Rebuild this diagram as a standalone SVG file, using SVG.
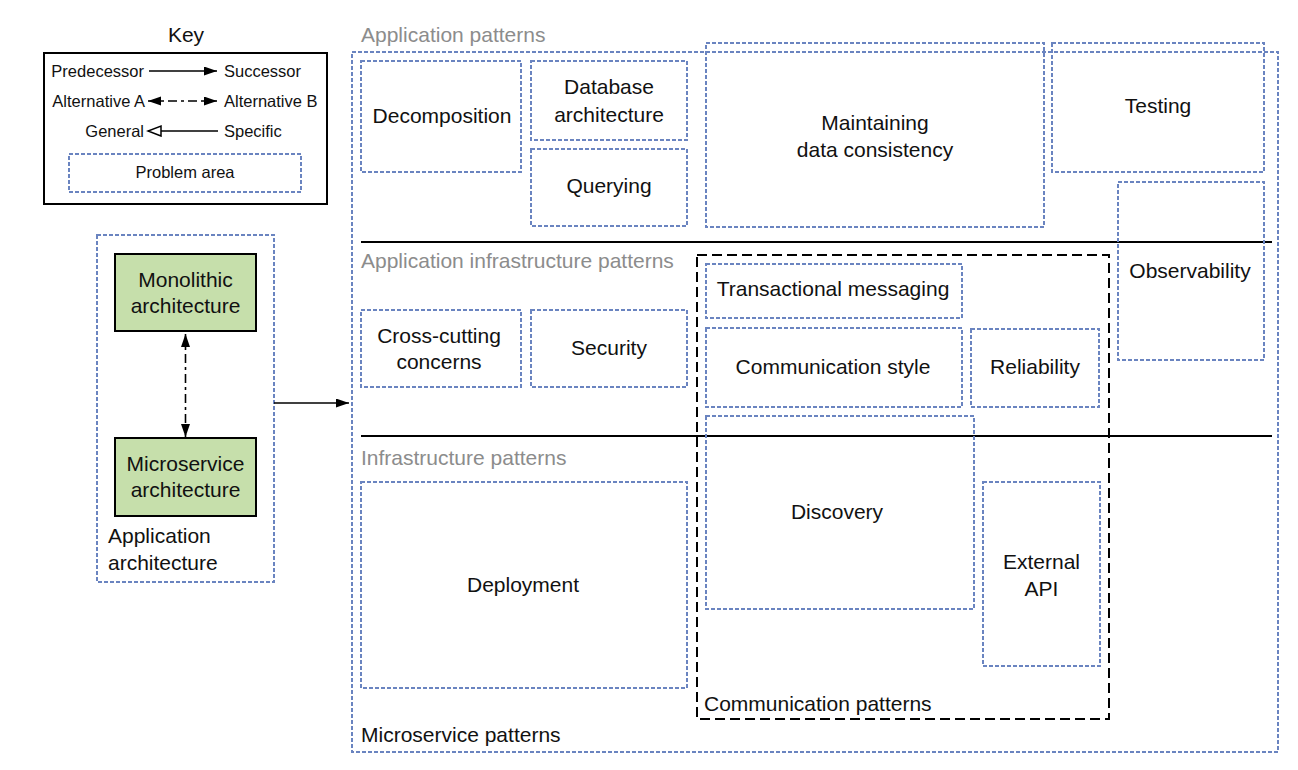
<svg xmlns="http://www.w3.org/2000/svg" width="1298" height="770" viewBox="0 0 1298 770">
<defs>
<style>
text{font-family:"Liberation Sans",Arial,sans-serif;fill:#111}
.n{font-size:21px;text-anchor:middle}
.g{font-size:21px;fill:#8c8c8c}
.l{font-size:21px}
.k{font-size:16.5px}
.ke{font-size:16.5px;text-anchor:end}
.kc{font-size:16.5px;text-anchor:middle}
.pa{fill:none;stroke:#6a84c0;stroke-width:2;stroke-dasharray:4 2}
.cp{fill:none;stroke:#000;stroke-width:2;stroke-dasharray:10 5}
.sep{stroke:#000;stroke-width:2}
.arch{fill:#c6dfab;stroke:#000;stroke-width:2}
.ln{stroke:#000;stroke-width:1.6;fill:none}
.dd{stroke:#000;stroke-width:1.6;fill:none;stroke-dasharray:9 4 3 4}
</style>
<marker id="ah" markerUnits="userSpaceOnUse" markerWidth="14" markerHeight="10" refX="13" refY="4.5" orient="auto-start-reverse">
<path d="M0,0 L13,4.5 L0,9 z" fill="#000"/>
</marker>
<marker id="oh" markerUnits="userSpaceOnUse" markerWidth="16" markerHeight="14" refX="14" refY="6" orient="auto">
<path d="M1,1 L14,6 L1,11 z" fill="#fff" stroke="#000" stroke-width="1.5"/>
</marker>
</defs>
<rect width="1298" height="770" fill="#fff"/>

<g id="key">
<text x="186" y="42" class="n">Key</text>
<rect x="44" y="53" width="283" height="151" fill="none" stroke="#000" stroke-width="2"/>
<text x="144" y="77" class="ke">Predecessor</text>
<text x="224" y="77" class="k">Successor</text>
<text x="145" y="107" class="ke">Alternative A</text>
<text x="224" y="107" class="k">Alternative B</text>
<text x="144" y="137" class="ke">General</text>
<text x="224" y="137" class="k">Specific</text>
<rect x="69" y="154" width="232" height="38" class="pa"/>
<text x="185" y="178" class="kc">Problem area</text>
</g>

<g id="application-architecture">
<rect x="97" y="235" width="177" height="347" class="pa"/>
<text x="108" y="543" class="l">Application</text>
<text x="108" y="570" class="l">architecture</text>
</g>
<g id="monolithic">
<rect x="115" y="254" width="141" height="77" class="arch"/>
<text x="185.5" y="287" class="n">Monolithic</text>
<text x="185.5" y="313" class="n">architecture</text>
</g>
<g id="microservice">
<rect x="115" y="438" width="141" height="78" class="arch"/>
<text x="185.5" y="471" class="n">Microservice</text>
<text x="185.5" y="497" class="n">architecture</text>
</g>

<g id="microservice-patterns">
<rect x="352" y="52" width="926" height="700" class="pa"/>
<text x="361" y="742" class="l">Microservice patterns</text>
<text x="361" y="42" class="g">Application patterns</text>
<text x="361" y="268" class="g">Application infrastructure patterns</text>
<text x="361" y="465" class="g">Infrastructure patterns</text>
<line x1="361" y1="242" x2="1272" y2="242" class="sep"/>
<line x1="361" y1="436" x2="1272" y2="436" class="sep"/>
</g>

<g id="communication-patterns">
<rect x="697" y="255" width="412" height="464" class="cp"/>
<text x="704" y="711" class="l">Communication patterns</text>
</g>

<g id="decomposition">
<rect x="361" y="61" width="160" height="111" class="pa"/>
<text x="442" y="123" class="n">Decomposition</text>
</g>
<g id="database-architecture">
<rect x="531" y="61" width="156" height="79" class="pa"/>
<text x="609" y="94" class="n">Database</text>
<text x="609" y="122" class="n">architecture</text>
</g>
<g id="querying">
<rect x="531" y="149" width="156" height="77" class="pa"/>
<text x="609" y="193" class="n">Querying</text>
</g>
<g id="maintaining-data-consistency">
<rect x="706" y="43" width="338" height="184" class="pa"/>
<text x="875" y="130" class="n">Maintaining</text>
<text x="875" y="157" class="n">data consistency</text>
</g>
<g id="testing">
<rect x="1052" y="43" width="212" height="129" class="pa"/>
<text x="1158" y="113" class="n">Testing</text>
</g>
<g id="observability">
<rect x="1118" y="182" width="146" height="178" class="pa"/>
<text x="1190" y="278" class="n">Observability</text>
</g>
<g id="cross-cutting-concerns">
<rect x="361" y="310" width="160" height="77" class="pa"/>
<text x="439" y="343" class="n">Cross-cutting</text>
<text x="439" y="369" class="n">concerns</text>
</g>
<g id="security">
<rect x="531" y="310" width="156" height="77" class="pa"/>
<text x="609" y="355" class="n">Security</text>
</g>
<g id="transactional-messaging">
<rect x="706" y="264" width="256" height="54" class="pa"/>
<text x="833" y="296" class="n">Transactional messaging</text>
</g>
<g id="communication-style">
<rect x="706" y="328" width="256" height="79" class="pa"/>
<text x="833" y="374" class="n">Communication style</text>
</g>
<g id="reliability">
<rect x="971" y="329" width="128" height="78" class="pa"/>
<text x="1035" y="374" class="n">Reliability</text>
</g>
<g id="deployment">
<rect x="361" y="482" width="326" height="206" class="pa"/>
<text x="523" y="592" class="n">Deployment</text>
</g>
<g id="discovery">
<rect x="706" y="416" width="268" height="193" class="pa"/>
<text x="837" y="519" class="n">Discovery</text>
</g>
<g id="external-api">
<rect x="983" y="482" width="117" height="184" class="pa"/>
<text x="1041.5" y="569" class="n">External</text>
<text x="1041.5" y="596" class="n">API</text>
</g>

<g id="connectors">
<line x1="149" y1="71" x2="217" y2="71" class="ln" marker-end="url(#ah)"/>
<line x1="148" y1="101" x2="217" y2="101" class="dd" marker-start="url(#ah)" marker-end="url(#ah)"/>
<line x1="218" y1="131" x2="148" y2="131" class="ln" marker-end="url(#oh)"/>
<line x1="185.5" y1="334" x2="185.5" y2="437" class="dd" marker-start="url(#ah)" marker-end="url(#ah)"/>
<line x1="274" y1="403" x2="349" y2="403" class="ln" marker-end="url(#ah)"/>
</g>
</svg>
